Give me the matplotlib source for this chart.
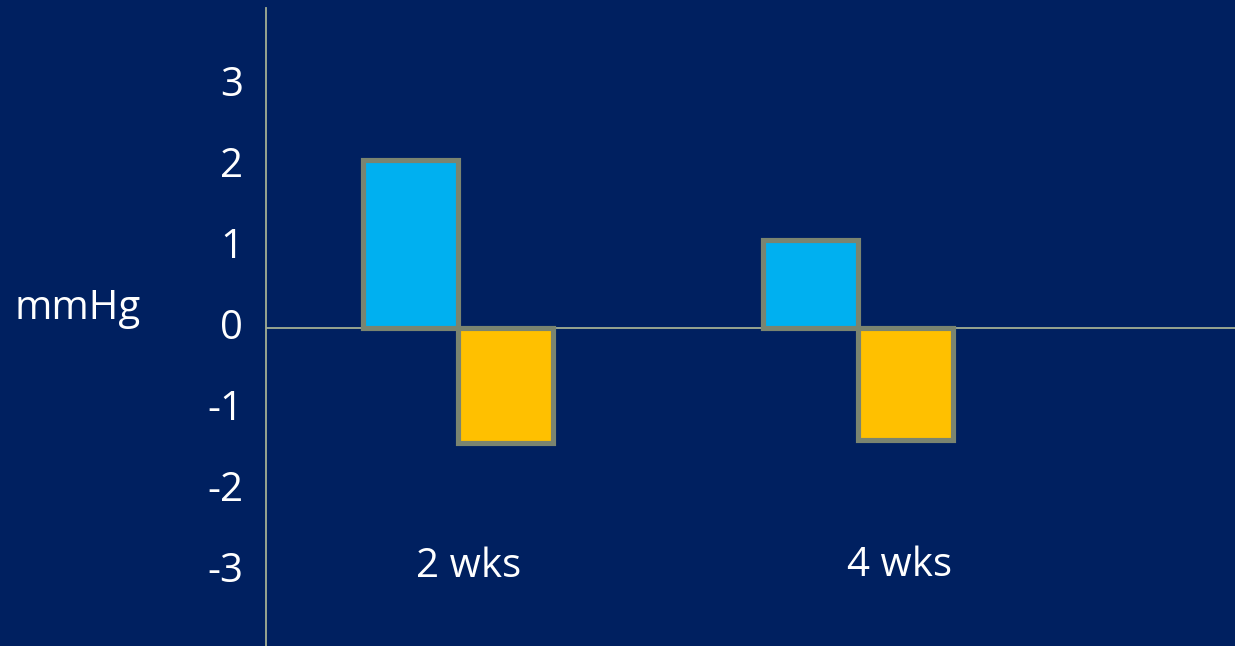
import matplotlib.pyplot as plt

# data
weeks = ["2 wks", "4 wks"]
blue_vals = [2.08, 1.09]
yellow_vals = [-1.42, -1.38]
y_ticks = [-3, -2, -1, 0, 1, 2, 3]

navy = "#002060"
blue = "#00B0F0"
yellow = "#FFC000"
edge = "#7A8470"
axis_col = "#A3AE93"

plt.rcParams['font.family'] = ['Open Sans', 'DejaVu Sans']

W, H = 1235, 646
fig = plt.figure(figsize=(W / 100, H / 100), dpi=100, facecolor=navy)
# axes spans x 266..1235 px, y 8..646 px
ax = fig.add_axes([266 / W, 0, 1 - 266 / W, 638 / H])
ax.set_facecolor(navy)

x = list(range(len(weeks)))
w = 0.2375
ax.bar([i - w / 2 for i in x], blue_vals, width=w, color=blue,
       edgecolor=edge, linewidth=3.7, zorder=3)
ax.bar([i + w / 2 for i in x], yellow_vals, width=w, color=yellow,
       edgecolor=edge, linewidth=3.7, zorder=3)

ax.axhline(0, color=axis_col, linewidth=1.3, zorder=2)

ax.set_xlim((266 - 457.7) / 400, (1235 - 457.7) / 400)
ax.set_ylim(-(646 - 328.3) / 81, (328.3 - 8) / 81)

for s in ['top', 'right', 'bottom']:
    ax.spines[s].set_visible(False)
ax.spines['left'].set_color(axis_col)
ax.spines['left'].set_linewidth(1.3)

ax.set_xticks([])
ax.set_yticks(y_ticks)
ax.set_yticklabels([str(t) for t in y_ticks])
ax.tick_params(axis='y', length=0, pad=16.5, labelsize=29, labelcolor='white')
for lab in ax.get_yticklabels():
    lab.set_verticalalignment('center')

# week labels sit as text boxes below the bars (baseline positions in px)
fig.text(468.5 / W, 1 - 577 / H, weeks[0], color='white', fontsize=29,
         ha='center', va='baseline')
fig.text(899.5 / W, 1 - 576 / H, weeks[1], color='white', fontsize=29,
         ha='center', va='baseline')

fig.text(77.5 / W, 1 - 319 / H, "mmHg", color='white', fontsize=29,
         ha='center', va='baseline')

fig.savefig("out.png", dpi=100, facecolor=navy)
